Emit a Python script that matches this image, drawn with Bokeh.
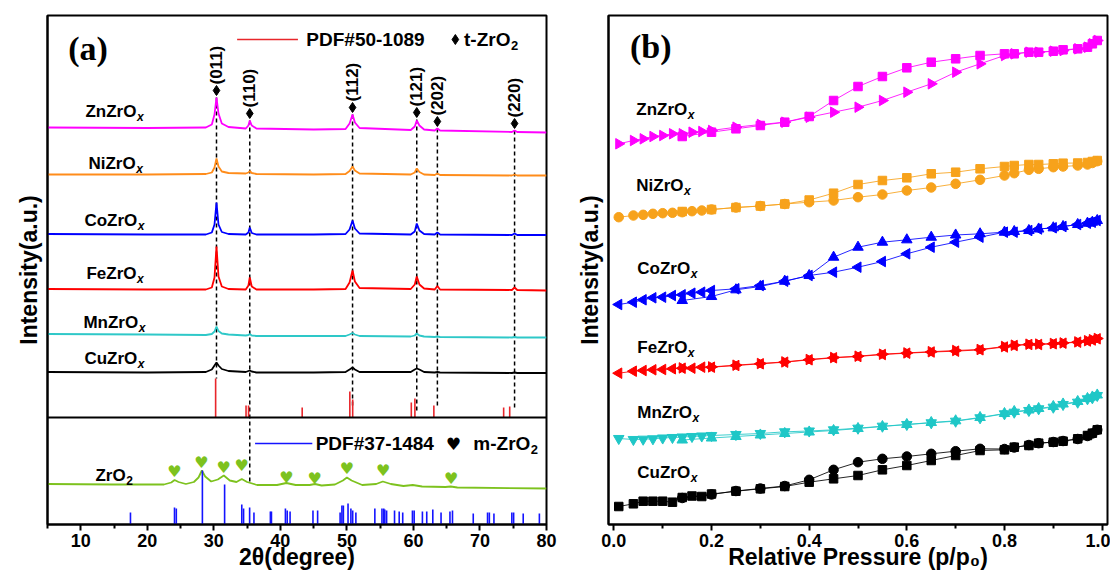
import numpy as np
from bokeh.plotting import figure
from bokeh.layouts import row
from bokeh.models import Span, FixedTicker, Range1d, PrintfTickFormatter
from bokeh.core.properties import value
from bokeh.embed import file_html
from bokeh.resources import INLINE

SANS = "Liberation Sans"
SERIF = "Liberation Serif"
SYM = "DejaVu Sans"

# ---------------- (a) XRD data ----------------
XRD_X = [5, 20, 28.8, 29.7, 30.1, 30.4, 30.7, 31.2, 32.2, 34.8, 35.2, 35.4, 35.7, 36.4, 45,
         49.8, 50.4, 50.85, 51.2, 51.9, 59.6, 60.2, 60.5, 60.9, 61.6, 63.2, 63.6, 64.0,
         74.8, 75.2, 75.6, 80]
ZN_XRD = [397, 396.5, 397, 400, 410, 427, 411, 401, 397.5, 396, 399, 404, 399, 396, 395,
          395.5, 401, 410, 402, 396.5, 394.5, 398, 404, 399, 395, 394, 396, 394, 392.5, 394, 392.5, 392]
NI_XRD = [350, 350, 350.5, 352, 357, 366, 358, 353, 351.5, 351, 352, 353.5, 351.5, 350.5, 350,
          350.5, 353.5, 358, 354, 351, 350, 352, 356, 352.5, 350, 349.5, 351, 349.5, 349, 350, 349, 349]
CO_XRD = [290.5, 290, 290, 292, 300, 322, 300, 292.5, 290.5, 290, 292, 297, 291.5, 290, 290,
          290.5, 295, 304, 296, 291, 290, 293, 301, 294, 290.5, 290, 292, 290, 289.5, 291, 289.5, 289.5]
FE_XRD = [235.5, 235, 235, 237, 247, 278, 248, 238, 235.5, 235, 239, 247, 238, 235, 235,
          235.5, 242, 254, 243, 236.5, 235.5, 240, 248, 240, 236, 235, 238.5, 235, 234.5, 237, 234.5, 234]
MN_XRD = [190.5, 190, 189.5, 190.5, 193, 198, 193.5, 191, 190, 189, 189.5, 190.5, 189, 188.5, 188.5,
          188.5, 190, 191.5, 190, 188.5, 188, 189, 191, 189, 188, 187.5, 188, 187.5, 187, 187.5, 187, 187]
CU_XRD = [152.5, 152, 152.5, 155, 159, 162, 159, 155.5, 153.5, 152.5, 153.5, 154, 153, 152, 152,
          152.5, 155, 157, 155, 152.5, 152.5, 155, 156, 155, 152.5, 152, 152.5, 152, 151.5, 152, 151.5, 151.5]

ZRO2_X = [5, 15, 22.5, 23.6, 24.1, 24.7, 25.8, 27.0, 27.7, 28.2, 28.7, 29.6, 30.6, 31.5, 32.4, 33.4,
          34.2, 35.0, 36.5, 39.5, 40.9, 42.3, 44.4, 45.2, 46.2, 48.2, 49.4, 50.0, 50.7, 52.3, 54.4,
          55.4, 56.6, 58.5, 59.9, 61.3, 64.8, 65.6, 66.6, 80]
ZRO2_Y = [40.5, 40, 40, 42, 44.5, 42.5, 40.5, 42.5, 47, 54, 48, 43, 45, 49, 44, 42.5, 45.5, 42.5,
          39.5, 39.5, 41.5, 39.5, 39.5, 40.5, 39, 40, 44, 47, 44, 39.5, 40.5, 43, 40.5, 38.5, 39.5,
          38, 37.5, 38, 37, 36]

SAMPLES = ["ZnZrO", "NiZrO", "CoZrO", "FeZrO", "MnZrO", "CuZrO"]
XRD_SERIES = [ZN_XRD, NI_XRD, CO_XRD, FE_XRD, MN_XRD, CU_XRD]
XRD_COLORS = ["#ff00ff", "#ff8c1a", "#0000ff", "#ff0000", "#2ec8c8", "#000000"]
XRD_LABEL_X = [10.7, 11.15, 10.55, 10.85, 10.4, 10.55]
XRD_LABEL_Y = [413, 361, 304, 251, 202, 166]

PEAK_POS = [30.4, 35.4, 50.85, 60.5, 63.6, 75.2]
PEAK_HKL = ["(011)", "(110)", "(112)", "(121)", "(202)", "(220)"]
PEAK_MARK_Y = [434, 411, 417, 412, 403, 401]
PEAK_LINE_END = [146, 41, 119, 112, 116, 116]

T_STICK_X = [30.27, 34.84, 35.22, 43.28, 50.44, 50.87, 59.68, 60.22, 63.07, 73.56, 74.47]
T_STICK_H = [39, 12, 12, 10, 26, 18, 15, 19, 12, 10, 11]
T_BASE = 107

M_STICK_X = [17.47, 24.09, 24.36, 28.28, 31.62, 34.2, 34.47, 35.38, 36.03, 38.5, 38.66, 40.76,
             41.03, 41.46, 44.9, 45.6, 48.98, 49.25, 49.47, 50.17, 50.6, 50.87, 51.35, 54.2, 55.27,
             55.54, 55.7, 55.97, 57.16, 57.86, 58.39, 59.85, 60.11, 61.35, 62.0, 62.91, 64.15,
             65.49, 65.87, 68.99, 71.14, 71.41, 72.1, 74.79, 75.06, 76.5, 78.93]
M_STICK_H = [12, 17, 16, 54, 40, 20, 16, 17, 12, 13, 13, 16, 14, 13, 14, 14, 12, 19, 19, 21, 16,
             14, 12, 16, 16, 16, 15, 14, 14, 13, 12, 14, 14, 13, 13, 15, 12, 13, 14, 11, 12, 12,
             11, 12, 12, 11, 11]

HEART_X = [24.09, 28.12, 31.46, 34.2, 40.92, 45.17, 50.01, 55.44, 65.66]
HEART_Y = [53.3, 62.3, 57.3, 59, 47.3, 46.3, 55.7, 54, 46.3]

A_TICKS = [10, 20, 30, 40, 50, 60, 70, 80]
A_MINOR = [5, 15, 25, 35, 45, 55, 65, 75]

# ---------------- (b) isotherm data ----------------
P_ADS = [0.01, 0.04, 0.06, 0.08, 0.10, 0.12, 0.14, 0.16, 0.18, 0.20, 0.25, 0.30, 0.35, 0.40,
         0.45, 0.50, 0.55, 0.60, 0.65, 0.70, 0.75, 0.80, 0.82, 0.85, 0.87, 0.90, 0.92, 0.95,
         0.97, 0.98, 0.99]
P_DES = [0.99, 0.98, 0.97, 0.95, 0.92, 0.90, 0.87, 0.85, 0.82, 0.80, 0.75, 0.70, 0.65, 0.60,
         0.55, 0.50, 0.45, 0.40, 0.35, 0.30, 0.25, 0.20, 0.14]

ZN_ADS = [380.7, 384, 385.7, 388, 389, 390.7, 390.7, 392.3, 393, 394, 397.3, 400, 402.3, 407.3,
          412.3, 417.3, 424, 432.3, 440.7, 452.3, 460.7, 469, 470.7, 472.3, 472.3, 473.3, 474,
          475.7, 477.3, 480.7, 484]
ZN_DES = [484, 480.7, 477.3, 475.7, 474.7, 473.3, 472.3, 472.3, 470.7, 470.7, 469, 465.7, 462.3,
          456.7, 448, 438, 424, 408, 402.3, 399, 395.7, 392.3, 388]
NI_ADS = [307.3, 309, 309.7, 310.7, 311.3, 311.7, 312.3, 313.3, 314, 315, 317, 318.5, 320.5,
          322.3, 324, 327.3, 330, 334, 337, 340.7, 344.7, 349, 351.3, 354.7, 355.7, 357.3, 358,
          359, 360, 361.5, 363.3]
NI_DES = [364, 363, 362, 361.5, 361.3, 360.7, 360, 360, 359, 358, 355.7, 352.3, 350.7, 346.7, 344,
          340, 331.3, 324.5, 320.5, 318.5, 317, 315, 313]
CO_ADS = [220, 222.3, 224.7, 226.7, 227.3, 229, 229.7, 231.3, 232.3, 234, 235.7, 239, 243.3, 249,
          252.3, 257.3, 263, 270.7, 277.3, 282.3, 287.3, 292.3, 292.3, 294, 295.5, 296.7, 298, 300,
          301.3, 302.3, 304]
CO_DES = [304, 302.3, 301.3, 300, 298, 296.7, 295.5, 294, 293, 292.3, 290.7, 289.5, 287.3, 284.7,
          282.3, 277.3, 267.3, 249, 243.3, 238, 234.7, 228, 224]
FE_ADS = [151.3, 153.3, 154, 154.7, 155, 155.7, 156.3, 156.3, 157.3, 157.3, 159, 160.7, 162.3,
          164.7, 166.7, 168, 170, 171.3, 172.5, 173.3, 174.7, 177.5, 179, 180, 180, 180.7, 181.3,
          182.3, 183.5, 184.5, 185.7]
FE_DES = [186, 184.8, 183.8, 182.6, 181.6, 181, 180.4, 180.3, 179.3, 178, 175, 174, 172.8, 171.6,
          170.3, 168.3, 167, 165, 162.6, 161, 159.3, 157.6, 156.6]
MN_ADS = [86, 85, 85.3, 85.7, 86.5, 87, 87.5, 88, 88.5, 89, 90, 91, 92.7, 93.5, 94.7, 96.3, 98.3,
          100, 101.7, 103.3, 106.7, 110.7, 112.3, 114, 115.7, 117.3, 120, 122.3, 125.7, 126.7, 129]
MN_DES = [129.5, 127.5, 126, 123, 120.5, 118, 116, 114.5, 113, 111, 107, 103.7, 102, 100, 98, 96,
          94, 92.5, 91, 89.5, 88, 86.5, 84.5]
CU_ADS = [18, 20.7, 23.3, 23.3, 23.3, 22.3, 27, 28.5, 28, 30.5, 33.3, 35.7, 38, 42.3, 45.7, 49,
          54.7, 59, 64, 69, 74, 74.7, 77.3, 79, 81.3, 82.3, 83.3, 85.7, 89, 91.3, 94.7]
CU_DES = [94.7, 91, 88.5, 85.5, 83.5, 82.5, 81.3, 79.5, 77, 75.5, 75.7, 73.3, 70.7, 68, 65.7, 62.3,
          54.7, 44.7, 38.5, 36, 33.5, 30, 26.5]

ISO_ADS = [ZN_ADS, NI_ADS, CO_ADS, FE_ADS, MN_ADS, CU_ADS]
ISO_DES = [ZN_DES, NI_DES, CO_DES, FE_DES, MN_DES, CU_DES]
ISO_COLORS = ["#ff00ff", "#f7a21b", "#0000ff", "#ff0000", "#1fc7c7", "#000000"]
ADS_MARK = [("triangle", -np.pi / 2), ("circle", 0), ("triangle", np.pi / 2), ("triangle", np.pi / 2),
            ("inverted_triangle", 0), ("square", 0)]
DES_MARK = [("square", 0), ("square", 0), ("triangle", 0), ("triangle", -np.pi / 2),
            ("triangle", 0), ("circle", 0)]
ISO_LABEL_X = [0.046, 0.046, 0.048, 0.048, 0.048, 0.048]
ISO_LABEL_Y = [415, 339, 256, 177, 112, 52]
B_TICKS = [0.0, 0.2, 0.4, 0.6, 0.8, 1.0]
B_MINOR = [0.1, 0.3, 0.5, 0.7, 0.9]

# ---------------- helpers ----------------
AW = {'A': 722, 'C': 722, 'F': 611, 'M': 833, 'N': 722, 'O': 778, 'P': 667, 'Z': 611,
      'e': 556, 'i': 278, 'm': 889, 'n': 611, 'o': 611, 'r': 389, 't': 333, 'u': 611,
      'x': 556, ' ': 278, '(': 333, ')': 333, '-': 333, '#': 556}


def tw(s, size):
    return sum(AW.get(c, 556) for c in s) * size / 1000.0


def btext(p, x, y, s, size, align="left", color="black", font=SANS, style="bold", x_off=0):
    p.text(x=[x], y=[y], text=[s], text_align=align, text_baseline="middle",
           text_font=value(font), text_font_style=style, text_font_size=f"{size}px",
           text_color=color, x_offset=x_off)


def sub_label(p, x, y, main, sub, size=17, sub_size=12, sub_style="bold italic", drop=5):
    btext(p, x, y, main, size)
    btext(p, x, y - drop, sub, sub_size, style=sub_style, x_off=tw(main, size) + 0.5)


def style(p, ticks, minor, xlabel, fmt=None):
    p.xgrid.visible = False
    p.ygrid.visible = False
    p.outline_line_color = "black"
    p.outline_line_width = 2
    p.outline_line_alpha = 1
    p.background_fill_color = "white"
    p.border_fill_color = "white"
    ax = p.xaxis[0]
    ax.ticker = FixedTicker(ticks=ticks, minor_ticks=minor)
    if fmt is not None:
        ax.formatter = fmt
    ax.axis_line_width = 2
    ax.major_tick_line_width = 2
    ax.minor_tick_line_width = 2
    ax.major_tick_in = 0
    ax.major_tick_out = 6
    ax.minor_tick_in = 0
    ax.minor_tick_out = 4
    ax.major_label_text_font = SANS
    ax.major_label_text_font_style = "bold"
    ax.major_label_text_font_size = "18px"
    ax.major_label_text_color = "black"
    ax.major_label_standoff = 3
    ax.axis_label = xlabel
    ax.axis_label_text_font = SANS
    ax.axis_label_text_font_style = "bold"
    ax.axis_label_text_font_size = "23px"
    ax.axis_label_text_color = "black"
    ax.axis_label_standoff = -6
    ay = p.yaxis[0]
    ay.ticker = FixedTicker(ticks=[])
    ay.axis_line_width = 2
    ay.axis_label = "Intensity(a.u.)"
    ay.axis_label_text_font = SANS
    ay.axis_label_text_font_style = "bold"
    ay.axis_label_text_font_size = "23px"
    ay.axis_label_text_color = "black"
    ay.axis_label_standoff = 6


# ---------------- panel (a) ----------------
pa = figure(frame_width=499, frame_height=509, x_range=Range1d(5, 80), y_range=Range1d(0, 509),
            output_backend="svg", toolbar_location=None,
            min_border_left=47, min_border_right=22, min_border_top=15, min_border_bottom=47)
style(pa, A_TICKS, A_MINOR, "2\u03b8(degree)")

pa.segment(x0=PEAK_POS, y0=PEAK_MARK_Y, x1=PEAK_POS, y1=PEAK_LINE_END, line_color="black",
           line_width=1.5, line_dash="4 3")
for ys, c in zip(XRD_SERIES, XRD_COLORS):
    pa.line(XRD_X, ys, line_color=c, line_width=1.8)
pa.line(ZRO2_X, ZRO2_Y, line_color="#7dc21e", line_width=1.8)

pa.segment(x0=T_STICK_X, y0=[T_BASE] * len(T_STICK_X), x1=T_STICK_X,
           y1=[T_BASE + h for h in T_STICK_H], line_color="#e8262b", line_width=1.6)
pa.segment(x0=M_STICK_X, y0=[0] * len(M_STICK_X), x1=M_STICK_X, y1=M_STICK_H,
           line_color="#1414ff", line_width=1.6)
pa.add_layout(Span(location=T_BASE, dimension="width", line_color="black", line_width=2))

pa.scatter(PEAK_POS, PEAK_MARK_Y, marker="diamond", size=10, color="black")
pa.text(x=PEAK_POS, y=[m + 6 for m in PEAK_MARK_Y], text=PEAK_HKL, angle=np.pi / 2,
        text_align="left", text_baseline="middle", text_font=value(SANS),
        text_font_style="bold", text_font_size="17px", text_color="black")
pa.text(x=HEART_X, y=HEART_Y, text=["\u2665"] * len(HEART_X), text_align="center",
        text_baseline="middle", text_font=value(SYM), text_font_size="16px", text_color="#7dc21e")

for name, lx, ly in zip(SAMPLES, XRD_LABEL_X, XRD_LABEL_Y):
    sub_label(pa, lx, ly, name, "x")
sub_label(pa, 12.2, 49, "ZrO", "2", sub_style="bold")

# legends
pa.line([33.5, 42.64], [485, 485], line_color="#e8262b", line_width=1.6)
btext(pa, 43.9, 485, "PDF#50-1089", 19)
pa.scatter([66.3], [485], marker="diamond", size=10, color="black")
sub_label(pa, 67.6, 485, "t-ZrO", "2", size=19, sub_size=13, sub_style="bold", drop=6)

pa.line([36.2, 44.8], [81, 81], line_color="#1414ff", line_width=1.6)
btext(pa, 45.3, 81, "PDF#37-1484", 19)
btext(pa, 66.0, 81, "\u2665", 17, align="center", font=SYM, style="normal")
sub_label(pa, 69.0, 81, "m-ZrO", "2", size=19, sub_size=13, sub_style="bold", drop=6)

btext(pa, 8.1, 476.5, "(a)", 34, font=SERIF)

# ---------------- panel (b) ----------------
pb = figure(frame_width=499, frame_height=509, x_range=Range1d(-0.011, 1.011),
            y_range=Range1d(0, 509), output_backend="svg", toolbar_location=None,
            min_border_left=40, min_border_right=3, min_border_top=15, min_border_bottom=47)
style(pb, B_TICKS, B_MINOR, "Relative Pressure (p/p\u2080)", PrintfTickFormatter(format="%.1f"))

for ads, des, c, am, dm in zip(ISO_ADS, ISO_DES, ISO_COLORS, ADS_MARK, DES_MARK):
    pb.line(P_ADS, ads, line_color=c, line_width=1, line_alpha=0.85)
    pb.line(P_DES, des, line_color=c, line_width=1, line_alpha=0.85)
    for xs, ys, (mk, ang) in ((P_ADS, ads, am), (P_DES, des, dm)):
        sz = 8.5 if mk == "square" else (9.5 if mk == "circle" else 10.5)
        pb.scatter(xs, ys, marker=mk, angle=ang, size=sz, color=c)

for name, lx, ly in zip(SAMPLES, ISO_LABEL_X, ISO_LABEL_Y):
    sub_label(pb, lx, ly, name, "x")
btext(pb, 0.033, 478, "(b)", 34, font=SERIF)

layout = row(pa, pb)
open("out.html", "w").write(file_html(layout, INLINE))
